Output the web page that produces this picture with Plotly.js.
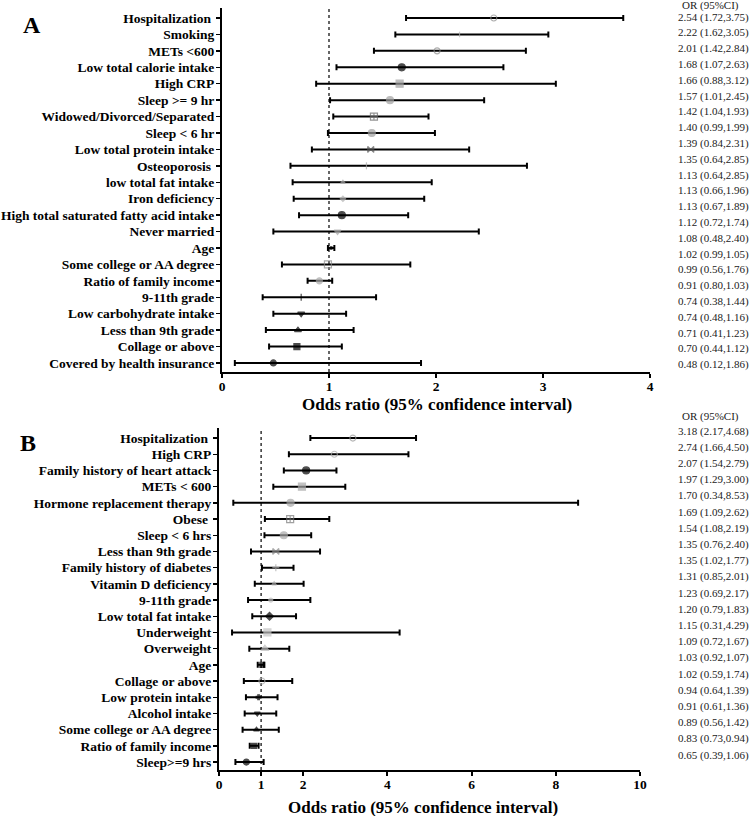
<!DOCTYPE html>
<html><head><meta charset="utf-8">
<script src="https://cdn.plot.ly/plotly-3.0.1.min.js"></script>
<style>html,body{margin:0;padding:0;background:#fff}</style>
</head><body><div id="chart" style="width:756px;height:816px"></div>
<script>
// ---------- Panel A data ----------
const labelsA = ["Hospitalization\u00a0","Smoking","METs <600","Low total calorie intake","High CRP","Sleep >= 9 hr",
  "Widowed/Divorced/Separated","Sleep < 6 hr","Low total protein intake","Osteoporosis\u00a0","low total fat intake",
  "Iron deficiency","High total saturated fatty acid intake","Never married","Age","Some college or AA degree",
  "Ratio of family income","9-11th grade","Low carbohydrate intake","Less than 9th grade","Collage or above",
  "Covered by health insurance"];
const orA = [2.54,2.22,2.01,1.68,1.66,1.57,1.42,1.40,1.39,1.35,1.13,1.13,1.12,1.08,1.02,0.99,0.91,0.74,0.74,0.71,0.70,0.48];
const loA = [1.72,1.62,1.42,1.07,0.88,1.01,1.04,0.99,0.84,0.64,0.66,0.67,0.72,0.48,0.99,0.56,0.80,0.38,0.48,0.41,0.44,0.12];
const hiA = [3.75,3.05,2.84,2.63,3.12,2.45,1.93,1.99,2.31,2.85,1.96,1.89,1.74,2.40,1.05,1.76,1.03,1.44,1.16,1.23,1.12,1.86];
const tableA = ["2.54 (1.72,3.75)","2.22 (1.62,3.05)","2.01 (1.42,2.84)","1.68 (1.07,2.63)","1.66 (0.88,3.12)",
  "1.57 (1.01,2.45)","1.42 (1.04,1.93)","1.40 (0.99,1.99)","1.39 (0.84,2.31)","1.35 (0.64,2.85)","1.13 (0.64,2.85)",
  "1.13 (0.66,1.96)","1.13 (0.67,1.89)","1.12 (0.72,1.74)","1.08 (0.48,2.40)","1.02 (0.99,1.05)","0.99 (0.56,1.76)",
  "0.91 (0.80,1.03)","0.74 (0.38,1.44)","0.74 (0.48,1.16)","0.71 (0.41,1.23)","0.70 (0.44,1.12)","0.48 (0.12,1.86)"];
const ticksA = [0,1,2,3,4];

// ---------- Panel B data ----------
const labelsB = ["Hospitalization\u00a0","High CRP","Family history of heart attack","METs < 600","Hormone replacement therapy",
  "Obese\u00a0","Sleep < 6 hrs","Less than 9th grade","Family history of diabetes","Vitamin D deficiency","9-11th grade",
  "Low total fat intake","Underweight","Overweight","Age","Collage or above","Low protein intake","Alcohol intake",
  "Some college or AA degree","Ratio of family income","Sleep>=9 hrs"];
const orB = [3.18,2.74,2.07,1.97,1.70,1.69,1.54,1.35,1.35,1.31,1.23,1.20,1.15,1.09,1.03,1.02,0.94,0.91,0.89,0.83,0.65];
const loB = [2.17,1.66,1.54,1.29,0.34,1.09,1.08,0.76,1.02,0.85,0.69,0.79,0.31,0.72,0.92,0.59,0.64,0.61,0.56,0.73,0.39];
const hiB = [4.68,4.50,2.79,3.00,8.53,2.62,2.19,2.40,1.77,2.01,2.17,1.83,4.29,1.67,1.07,1.74,1.39,1.36,1.42,0.94,1.06];
const ticksB = [0,1,2,4,6,8,10];

// ---------- marker styles ----------
const symA = ["circle-open","line-ns-open","circle-open","circle","square","circle","square-cross-open","circle","bowtie",
  "line-ns-open","triangle-up","diamond","circle","triangle-down","circle","square-open","circle","line-ns-open",
  "triangle-down","triangle-up","square","circle"];
const colA = ["#8a8a8a","#b5b5b5","#8a8a8a","#000","#a0a0a0","#a0a0a0","#666","#a0a0a0","#555","#a8a8a8","#a8a8a8",
  "#b0b0b0","#000","#a8a8a8","#000","#888","#a8a8a8","#000","#000","#000","#000","#000"];
const sizeA = [6,4,6,7,7,7,7,7,6,5,4,4,7,6,3,7,6,5,6,6,6,6];

const symB = ["circle-open","circle-open","circle","square","circle","square-cross-open","circle","bowtie","cross-thin-open",
  "triangle-up","circle","diamond","square","triangle-up","square","circle-open","cross","triangle-down","triangle-up",
  "square","circle"];
const colB = ["#999","#aaa","#000","#a8a8a8","#a8a8a8","#777","#a8a8a8","#888","#aaa","#aaa","#bbb","#000","#c4c4c4",
  "#bdbdbd","#000","#aaa","#000","#000","#000","#000","#000"];
const sizeB = [6,6,7,7,7,7,7,6,5,4,4,6,7,7,5,6,4,5,5,5,6];

const W = 756, H = 816;
const px = v => v / W, py = v => 1 - v / H;
const serif = "Liberation Serif, Times New Roman, serif";

function diff(a, b) { return a.map((v, i) => +(v - b[i]).toFixed(4)); }

const traceA = {
  type: "scatter", mode: "markers", x: orA, y: labelsA, xaxis: "x", yaxis: "y",
  error_x: { type: "data", symmetric: false, array: diff(hiA, orA), arrayminus: diff(orA, loA),
    color: "#000", thickness: 2, width: 3 },
  marker: { symbol: symA, color: colA, size: sizeA, line: { color: colA, width: 1.2 } },
  hoverinfo: "skip", showlegend: false
};
const traceB = {
  type: "scatter", mode: "markers", x: orB, y: labelsB, xaxis: "x2", yaxis: "y2",
  error_x: { type: "data", symmetric: false, array: diff(hiB, orB), arrayminus: diff(orB, loB),
    color: "#000", thickness: 2, width: 3 },
  marker: { symbol: symB, color: colB, size: sizeB, line: { color: colB, width: 1.2 } },
  hoverinfo: "skip", showlegend: false
};

const tickFont = { family: serif, size: 13.5, color: "#000", weight: "bold" };
const xBase = {
  showline: true, linecolor: "#000", linewidth: 2, ticks: "outside", ticklen: 4, tickwidth: 2, tickcolor: "#000",
  showgrid: false, zeroline: false, tickfont: tickFont, tickmode: "array", ticklabelstandoff: -3
};
const yBase = {
  type: "category", showline: true, linecolor: "#000", linewidth: 2, ticks: "outside", ticklen: 4, tickwidth: 1.5,
  tickcolor: "#000", showgrid: false, zeroline: false, tickfont: tickFont, ticklabelstandoff: -1
};

const annotations = [];
function addText(xp, yp, text, font) {
  annotations.push({ xref: "paper", yref: "paper", x: px(xp), y: py(yp), xanchor: "center", yanchor: "middle",
    text: text, showarrow: false, font: font });
}
const letterFont = { family: serif, size: 24, color: "#000", weight: "bold" };
const titleFont = { family: serif, size: 17, color: "#000", weight: "bold" };
const tFont = { family: serif, size: 11, color: "#222" };
addText(32, 25, "A", letterFont);
addText(28, 443, "B", letterFont);
addText(437, 404, "Odds ratio (95% confidence interval)", titleFont);
addText(423, 807, "Odds ratio (95% confidence interval)", titleFont);
addText(710, 6, "OR (95%CI)", tFont);
tableA.forEach((t, i) => addText(713, 17 + i * 15.8, t, tFont));
addText(710, 417, "OR (95%CI)", tFont);
orB.forEach((v, i) => addText(713, 431 + i * 16.2,
  v.toFixed(2) + " (" + loB[i].toFixed(2) + "," + hiB[i].toFixed(2) + ")", tFont));

const layout = {
  width: W, height: H, margin: { l: 0, r: 0, t: 0, b: 0 }, paper_bgcolor: "#fff", plot_bgcolor: "rgba(0,0,0,0)",
  font: { family: serif },
  xaxis: Object.assign({}, xBase, { domain: [px(222), px(650)], range: [0, 4], tickvals: ticksA, anchor: "y" }),
  yaxis: Object.assign({}, yBase, { domain: [py(372), py(8)], range: [21.55, -0.61], anchor: "x" }),
  xaxis2: Object.assign({}, xBase, { domain: [px(219), px(640)], range: [0, 10], tickvals: ticksB, anchor: "y2" }),
  yaxis2: Object.assign({}, yBase, { domain: [py(770), py(428)], range: [20.49, -0.62], anchor: "x2" }),
  shapes: [
    { type: "line", xref: "x", yref: "y domain", x0: 1, x1: 1, y0: 0, y1: 1, line: { color: "#000", width: 1.2, dash: "dot" }, layer: "below" },
    { type: "line", xref: "x2", yref: "y2 domain", x0: 1, x1: 1, y0: 0, y1: 1, line: { color: "#000", width: 1.2, dash: "dot" }, layer: "below" }
  ],
  annotations: annotations
};

Plotly.newPlot("chart", [traceA, traceB], layout, { displayModeBar: false, staticPlot: true });
</script>
</body></html>
